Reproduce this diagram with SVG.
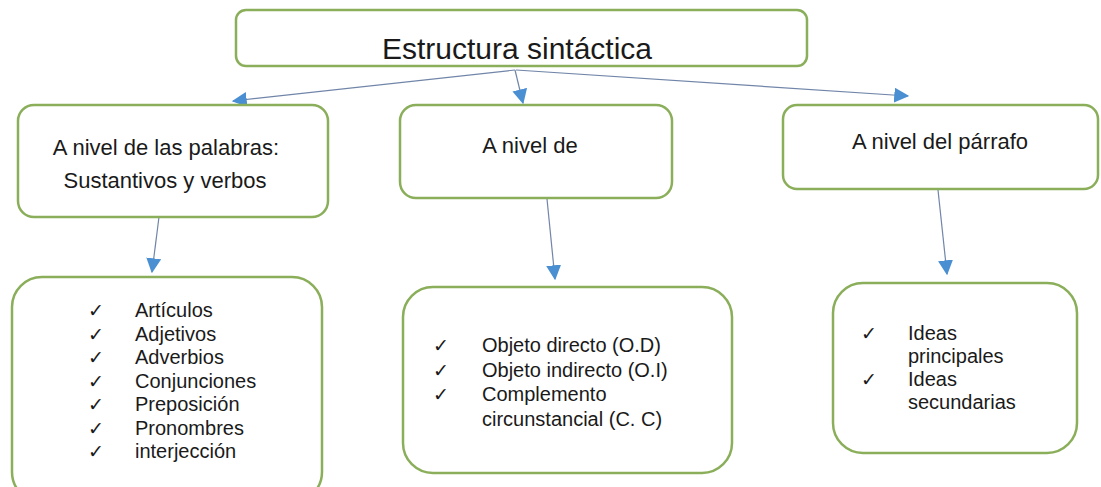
<svg xmlns="http://www.w3.org/2000/svg" width="1101" height="487" viewBox="0 0 1101 487">
  <style>
    .box { fill: #ffffff; stroke: #8aae5a; stroke-width: 2.5; }
    .title { font-family: "Liberation Sans", Arial, sans-serif; font-size: 30px; fill: #1a1a1a; text-anchor: middle; }
    .head { font-family: "Liberation Sans", Arial, sans-serif; font-size: 22px; fill: #1a1a1a; text-anchor: middle; }
    .item { font-family: "Liberation Sans", Arial, sans-serif; font-size: 20px; fill: #1a1a1a; }
    .check { font-family: "DejaVu Sans", sans-serif; font-size: 19px; fill: #1a1a1a; }
    .link { stroke: #7085a8; stroke-width: 1.2; fill: none; marker-end: url(#tip); }
  </style>
  <defs>
    <marker id="tip" viewBox="0 0 12 12" refX="11" refY="6" markerWidth="15" markerHeight="15" markerUnits="userSpaceOnUse" orient="auto">
      <path d="M0,0 L12,6 L0,12 Z" fill="#4b8fd3"/>
    </marker>
  </defs>
  <rect width="1101" height="487" fill="#ffffff"/>

  <!-- connectors -->
  <g id="connectors">
    <line class="link" x1="515" y1="70" x2="233" y2="101"/>
    <line class="link" x1="515" y1="70" x2="523" y2="103"/>
    <line class="link" x1="516" y1="70" x2="908" y2="96"/>
    <line class="link" x1="159" y1="217" x2="152" y2="272"/>
    <line class="link" x1="547" y1="199" x2="555" y2="279"/>
    <line class="link" x1="938" y1="190" x2="947" y2="274"/>
  </g>

  <!-- root -->
  <g id="root">
    <rect class="box" x="236" y="10" width="571" height="56" rx="10"/>
    <text class="title" x="517" y="59">Estructura sintáctica</text>
  </g>

  <!-- second level -->
  <g id="palabras">
    <rect class="box" x="18" y="105" width="310" height="112" rx="16"/>
    <text class="head" x="166" y="155">A nivel de las palabras:</text>
    <text class="head" x="165" y="188">Sustantivos y verbos</text>
  </g>
  <g id="oracion">
    <rect class="box" x="400" y="105" width="272" height="93" rx="16"/>
    <text class="head" x="530" y="153">A nivel de</text>
  </g>
  <g id="parrafo">
    <rect class="box" x="783" y="105" width="315" height="84" rx="14"/>
    <text class="head" x="940" y="149">A nivel del párrafo</text>
  </g>

  <!-- lists -->
  <g id="lista-palabras">
    <rect class="box" x="12" y="277" width="310" height="225" rx="30"/>
    <g class="check">
      <text x="88" y="317">✓</text>
      <text x="88" y="340.5">✓</text>
      <text x="88" y="364">✓</text>
      <text x="88" y="387.5">✓</text>
      <text x="88" y="411">✓</text>
      <text x="88" y="434.5">✓</text>
      <text x="88" y="458">✓</text>
    </g>
    <g class="item">
      <text x="135" y="317">Artículos</text>
      <text x="135" y="340.5">Adjetivos</text>
      <text x="135" y="364">Adverbios</text>
      <text x="135" y="387.5">Conjunciones</text>
      <text x="135" y="411">Preposición</text>
      <text x="135" y="434.5">Pronombres</text>
      <text x="135" y="458">interjección</text>
    </g>
  </g>
  <g id="lista-oracion">
    <rect class="box" x="403" y="287" width="329" height="186" rx="30"/>
    <g class="check">
      <text x="433" y="352">✓</text>
      <text x="433" y="376.5">✓</text>
      <text x="433" y="401">✓</text>
    </g>
    <g class="item">
      <text x="482" y="352">Objeto directo (O.D)</text>
      <text x="482" y="376.5">Objeto indirecto (O.I)</text>
      <text x="482" y="401">Complemento</text>
      <text x="482" y="425.5">circunstancial (C. C)</text>
    </g>
  </g>
  <g id="lista-parrafo">
    <rect class="box" x="833" y="283" width="244" height="170" rx="30"/>
    <g class="check">
      <text x="861" y="340">✓</text>
      <text x="861" y="386">✓</text>
    </g>
    <g class="item">
      <text x="908" y="340">Ideas</text>
      <text x="908" y="363">principales</text>
      <text x="908" y="386">Ideas</text>
      <text x="908" y="409">secundarias</text>
    </g>
  </g>
</svg>
